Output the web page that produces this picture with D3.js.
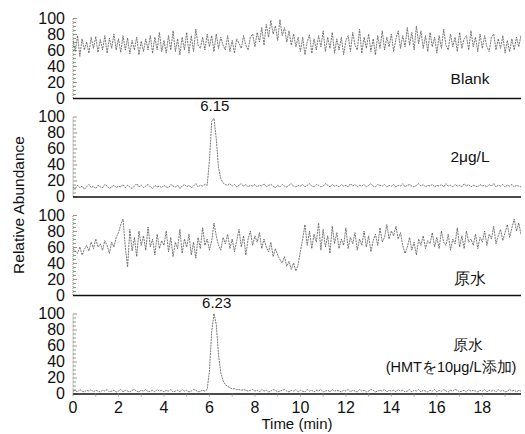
<!DOCTYPE html>
<html><head><meta charset="utf-8">
<script src="https://cdn.jsdelivr.net/npm/d3@7"></script>
<style>body{margin:0;background:#fff}svg{display:block}text{font-family:"Liberation Sans",Arial,sans-serif}</style>
</head><body><svg id="c" width="525" height="434"></svg>
<script>
// time grid: 0.0 .. 19.9 min, step 0.1
const timeStep = 0.1;
const xTicks = [0,2,4,6,8,10,12,14,16,18];
const yTicks = [0,20,40,60,80,100];
const panelLabels = [["Blank"],["2μg/L"],["原水"],["原水","(HMTを10μg/L添加)"]];
const peakLabels = [null, {t:6.15, text:"6.15"}, null, {t:6.23, text:"6.23"}];

const blank = [
72,58,78,52,74,60,70,56,76,62,77,57,73,60,78,56,75,62,80,60,
74,57,78,60,75,55,72,60,76,54,71,58,74,60,78,56,76,60,82,58,
72,56,78,60,84,58,74,54,76,60,82,56,78,58,86,66,62,76,60,80,
64,78,58,80,62,76,66,60,78,58,72,56,74,68,62,78,66,60,76,80,
64,82,70,88,66,92,76,97,80,90,72,98,78,88,70,84,66,80,64,76,
58,76,54,70,79,56,74,60,78,64,84,58,76,62,82,56,74,60,76,54,
72,78,58,82,66,60,86,56,76,62,80,58,74,54,78,62,84,60,76,64,
80,58,74,84,62,78,64,88,66,82,60,90,68,84,62,78,58,82,64,76,
56,78,62,86,66,60,80,64,76,58,82,62,74,78,60,84,64,76,58,80,
62,78,64,58,76,80,60,74,62,78,56,72,58,74,60,76,64,78,62,74];

const std2 = [
12,10,14,11,13,9,12,15,11,13,10,14,12,11,15,13,10,12,14,11,
13,12,15,11,14,12,10,13,16,12,14,11,13,15,12,10,14,12,13,11,
14,12,11,15,13,12,14,10,13,15,12,14,11,13,16,12,14,13,15,14,
45,94,98,72,36,22,17,15,14,16,13,15,12,14,16,13,15,12,14,13,
15,12,14,13,16,12,14,15,13,11,14,12,15,13,12,14,16,13,12,14,
13,15,12,14,16,13,12,15,14,12,13,16,14,12,15,13,14,12,15,13,
14,12,16,13,15,12,14,13,15,12,14,16,13,12,15,14,13,15,12,14,
13,15,12,14,13,16,12,14,15,13,12,14,16,13,15,12,14,13,15,12,
14,13,15,12,16,13,14,12,15,13,14,12,16,13,15,12,14,13,12,15,
13,14,12,15,13,16,12,14,13,15,12,14,13,15,12,14,13,12,14,13];

const raw = [
58,55,52,60,50,57,62,55,66,58,70,60,64,56,68,62,52,66,60,72,
78,88,95,60,35,82,55,72,48,80,62,74,56,85,60,70,50,76,58,68,
62,80,54,72,48,66,58,82,52,70,60,76,50,66,46,72,58,84,62,70,
56,68,90,74,62,56,72,64,76,58,70,54,68,82,60,74,50,70,80,62,
74,66,78,58,70,60,54,66,48,58,50,44,40,48,36,42,32,40,30,38,
55,70,88,62,80,58,76,66,90,56,82,60,74,52,86,64,78,58,70,62,
84,58,72,64,78,56,70,62,80,60,74,54,68,76,62,84,66,72,88,70,
80,74,86,70,78,62,52,60,72,56,66,50,70,62,74,58,68,64,78,60,
72,58,80,66,62,76,56,70,64,84,60,74,58,80,66,70,62,76,58,72,
66,80,62,76,70,86,64,74,82,68,78,88,72,84,95,80,90,76,85,78];

const spiked = [
3,4,2,5,3,2,4,3,5,2,4,3,2,4,3,5,2,3,4,2,
3,5,2,4,3,2,4,5,3,2,4,3,5,2,3,4,2,5,3,4,
2,4,3,5,2,3,4,2,5,3,4,2,3,5,4,2,3,4,3,5,
28,78,100,86,48,26,16,11,9,7,6,6,5,5,4,5,4,3,4,5,
3,4,2,5,3,4,2,3,5,4,2,3,4,5,3,2,4,3,5,2,
4,3,2,5,3,4,2,4,3,5,2,3,4,2,5,3,4,3,2,4,
3,5,2,4,3,2,5,3,4,2,3,5,4,2,3,4,3,5,2,4,
3,4,2,5,3,4,2,3,5,2,4,3,5,2,4,3,2,4,3,5,
2,4,3,5,3,2,4,3,5,4,2,3,4,2,5,3,4,3,2,4,
3,5,2,4,3,4,2,5,3,4,2,3,5,3,4,2,4,3,5,3];

const series = [blank, std2, raw, spiked];

const svg = d3.select("#c");
const left = 73, right = 521;
const x = d3.scaleLinear().domain([0, 19.7]).range([left, right]);
const panelTop = [18, 116.5, 215, 313.5];
const panelH = 80;

svg.append("defs").append("clipPath").attr("id","clip")
  .append("rect").attr("x",left).attr("y",0).attr("width",right-left).attr("height",434);

series.forEach((vals, i) => {
  const y = d3.scaleLinear().domain([0,100]).range([panelTop[i]+panelH, panelTop[i]]);
  const g = svg.append("g");
  g.append("line").attr("x1",left).attr("x2",left).attr("y1",y(0)).attr("y2",y(100))
    .attr("stroke","#888").attr("stroke-width",1).attr("stroke-dasharray","1,1");
  const minor = d3.range(0,101,5);
  g.selectAll(".mt").data(minor).join("line")
    .attr("x1",left).attr("x2",d => d%20===0 ? left+4 : left+3)
    .attr("y1",d=>y(d)+0.5).attr("y2",d=>y(d)+0.5)
    .attr("stroke","#777").attr("stroke-width",0.8);
  g.selectAll(".yl").data(yTicks).join("text")
    .attr("x",65).attr("y",d=>y(d)).attr("dy","0.36em")
    .attr("text-anchor","end").attr("font-size",16).attr("fill","#111")
    .text(d=>d);
  g.append("line").attr("x1",left).attr("x2",right).attr("y1",y(0)+0.5).attr("y2",y(0)+0.5)
    .attr("stroke","#111").attr("stroke-width",1.3);
  const line = d3.line().x((d,k)=>x(k*timeStep)).y(d=>y(d)).curve(d3.curveLinear);
  g.append("path").datum(vals).attr("d",line).attr("clip-path","url(#clip)")
    .attr("fill","none").attr("stroke","#555").attr("stroke-width",0.8)
    .attr("stroke-dasharray","2,0.8");
  const lbl = panelLabels[i];
  if (lbl.length === 1) {
    const yy = [84, 162, 284][i];
    g.append("text").attr("x",470).attr("y",yy).attr("text-anchor","middle")
      .attr("font-size",15.5).attr("fill","#111").text(lbl[0]);
  } else {
    g.append("text").attr("x",468).attr("y",350).attr("text-anchor","middle")
      .attr("font-size",15).attr("fill","#111").text(lbl[0]);
    g.append("text").attr("x",451).attr("y",372).attr("text-anchor","middle")
      .attr("font-size",14.5).attr("fill","#111").text(lbl[1]);
  }
  const pk = peakLabels[i];
  if (pk) {
    g.append("text").attr("x",x(pk.t)+2).attr("y",panelTop[i]-6).attr("text-anchor","middle")
      .attr("font-size",15).attr("fill","#111").text(pk.text);
  }
});

const yb = panelTop[3]+panelH;
svg.append("g").selectAll("line").data(d3.range(0,20,1)).join("line")
  .attr("x1",d=>x(d)).attr("x2",d=>x(d)).attr("y1",yb).attr("y2",yb+3)
  .attr("stroke","#888").attr("stroke-width",0.8);
svg.append("g").selectAll("text").data(xTicks).join("text")
  .attr("x",d=>x(d)).attr("y",yb+19).attr("text-anchor","middle")
  .attr("font-size",16).attr("fill","#111").text(d=>d);
svg.append("text").attr("x",297).attr("y",429).attr("text-anchor","middle")
  .attr("font-size",15).attr("fill","#111").text("Time (min)");
svg.append("text").attr("transform","translate(24,205) rotate(-90)").attr("text-anchor","middle")
  .attr("font-size",15.5).attr("fill","#111").text("Relative Abundance");
</script></body></html>
